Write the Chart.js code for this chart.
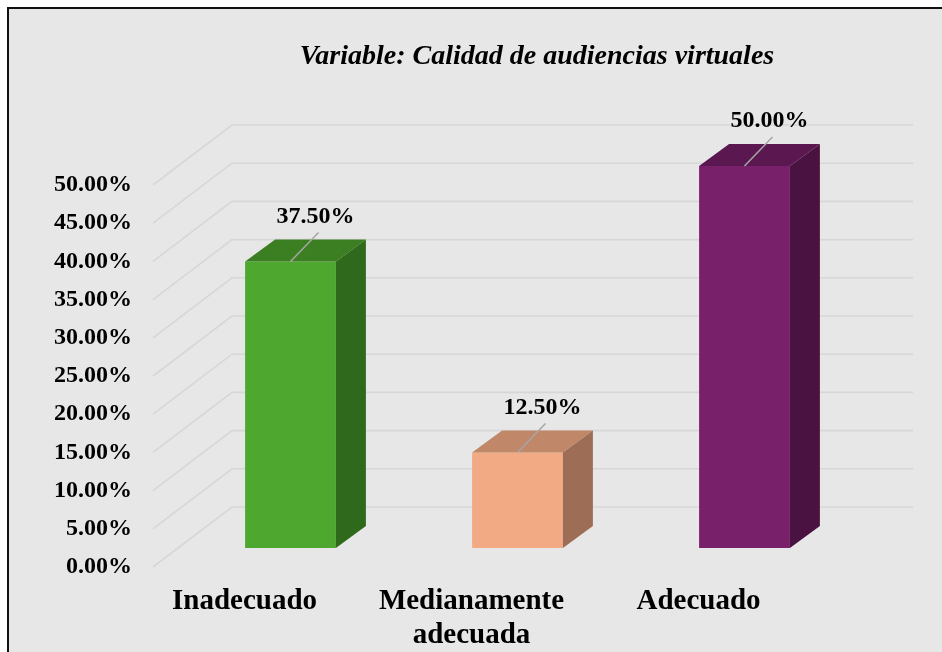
<!DOCTYPE html>
<html>
<head>
<meta charset="utf-8">
<script src="https://cdn.jsdelivr.net/npm/chart.js@4.4.0/dist/chart.umd.min.js"></script>
<style>
    html, body { margin: 0; padding: 0; background: #fff; }
</style>
</head>
<body>
<canvas id="grafico" width="942" height="652"></canvas>
<script>
const titulo = 'Variable: Calidad de audiencias virtuales';
const categorias = ['Inadecuado', ['Medianamente', 'adecuada'], 'Adecuado'];
const porcentajes = [37.5, 12.5, 50.0];
const etiquetasY = ['0.00%', '5.00%', '10.00%', '15.00%', '20.00%', '25.00%',
                    '30.00%', '35.00%', '40.00%', '45.00%', '50.00%'];
const colorFrente = ['#4ea72e', '#f2aa84', '#78206a'];
const colorTapa = ['#3c7f23', '#c08769', '#5b1850'];
const colorLado = ['#2f6a1c', '#9e6d55', '#4a1240'];

// profundidad de las barras y del "piso" 3D
const prof = { dx: 30, dy: -22 };
const FUENTE = '"Liberation Serif", "Times New Roman", serif';

const efecto3d = {
    id: 'efecto3d',
    beforeDraw(chart) {
        const ctx = chart.ctx;
        ctx.save();
        ctx.fillStyle = '#ffffff';
        ctx.fillRect(0, 0, chart.width, chart.height);
        ctx.fillStyle = '#e7e7e7';
        ctx.fillRect(8, 8, chart.width, chart.height);
        ctx.strokeStyle = '#111';
        ctx.lineWidth = 2;
        ctx.beginPath();
        ctx.moveTo(8, chart.height);
        ctx.lineTo(8, 8);
        ctx.lineTo(chart.width, 8);
        ctx.stroke();
        ctx.restore();
    },
    beforeDatasetsDraw(chart) {
        const ctx = chart.ctx;
        const area = chart.chartArea;
        const y = chart.scales.y;
        ctx.save();
        ctx.strokeStyle = '#d7d7d7';
        ctx.lineWidth = 1.6;
        y.ticks.forEach(t => {
            const py = y.getPixelForValue(t.value);
            ctx.beginPath();
            ctx.moveTo(area.left - 24, py + 19);
            ctx.lineTo(area.left + 55, py - 41);
            ctx.lineTo(area.right + 55, py - 41);
            ctx.stroke();
        });
        ctx.restore();
    },
    afterDatasetsDraw(chart) {
        const ctx = chart.ctx;
        const meta = chart.getDatasetMeta(0);
        ctx.save();
        meta.data.forEach((bar, i) => {
            const izq = bar.x - bar.width / 2;
            const der = bar.x + bar.width / 2;
            // tapa
            ctx.fillStyle = colorTapa[i];
            ctx.beginPath();
            ctx.moveTo(izq, bar.y);
            ctx.lineTo(izq + prof.dx, bar.y + prof.dy);
            ctx.lineTo(der + prof.dx, bar.y + prof.dy);
            ctx.lineTo(der, bar.y);
            ctx.closePath();
            ctx.fill();
            // lado
            ctx.fillStyle = colorLado[i];
            ctx.beginPath();
            ctx.moveTo(der, bar.y);
            ctx.lineTo(der + prof.dx, bar.y + prof.dy);
            ctx.lineTo(der + prof.dx, bar.base + prof.dy);
            ctx.lineTo(der, bar.base);
            ctx.closePath();
            ctx.fill();
            // linea guia
            ctx.strokeStyle = '#a6a6a6';
            ctx.lineWidth = 1.5;
            ctx.beginPath();
            ctx.moveTo(bar.x, bar.y);
            ctx.lineTo(bar.x + 28, bar.y - 29);
            ctx.stroke();
            // etiqueta
            ctx.fillStyle = '#000';
            ctx.font = 'bold 24px ' + FUENTE;
            ctx.textAlign = 'center';
            ctx.textBaseline = 'middle';
            ctx.fillText(porcentajes[i].toFixed(2) + '%', bar.x + 25, bar.y - 45);
        });
        ctx.restore();
    },
    afterDraw(chart) {
        const ctx = chart.ctx;
        ctx.save();
        ctx.fillStyle = '#000';
        ctx.font = 'italic bold 28px ' + FUENTE;
        ctx.textAlign = 'center';
        ctx.textBaseline = 'middle';
        ctx.fillText(titulo, 537, 57);
        ctx.restore();
    }
};

new Chart(document.getElementById('grafico'), {
    type: 'bar',
    data: {
        labels: categorias,
        datasets: [{
            data: porcentajes,
            backgroundColor: colorFrente,
            borderWidth: 0,
            categoryPercentage: 1,
            barPercentage: 0.4
        }]
    },
    options: {
        responsive: false,
        animation: false,
        layout: { padding: { top: 166, right: 84, left: 0, bottom: 0 } },
        plugins: {
            legend: { display: false },
            tooltip: { enabled: false }
        },
        scales: {
            x: {
                grid: { display: false, drawTicks: false },
                border: { display: false },
                afterFit: (s) => { s.height = 104; },
                ticks: {
                    color: '#000',
                    padding: 37,
                    labelOffset: -46,
                    maxRotation: 0,
                    font: { family: FUENTE, size: 29, weight: 'bold', lineHeight: 1.15 }
                }
            },
            y: {
                min: 0,
                max: 50,
                grid: { display: false, drawTicks: false },
                border: { display: false },
                afterFit: (s) => { s.width = 177; },
                ticks: {
                    stepSize: 5,
                    color: '#000',
                    padding: 45,
                    labelOffset: 19,
                    font: { family: FUENTE, size: 24, weight: 'bold' },
                    callback: (v, i) => etiquetasY[i]
                }
            }
        }
    },
    plugins: [efecto3d]
});
</script>
</body>
</html>
